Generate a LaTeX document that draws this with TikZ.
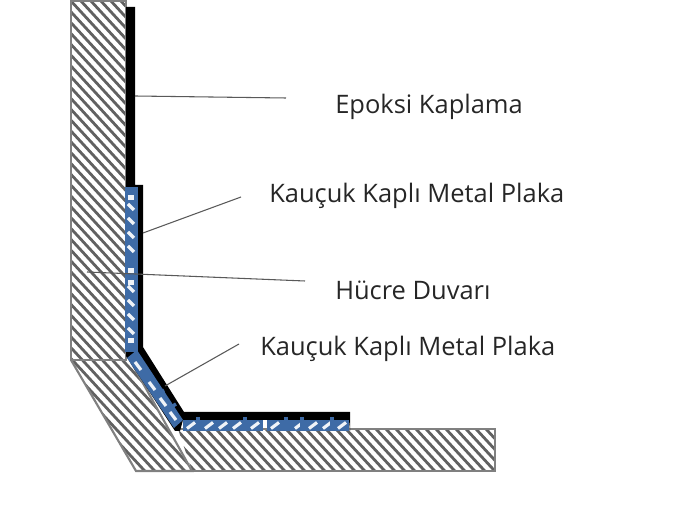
\documentclass[tikz,border=0pt]{standalone}
\usepackage{fontspec}
\setmainfont{Open Sans}
\tikzset{
  body/.style={draw=black!50,line width=1.6pt},
  hatch/.style={black!62,line width=2.1pt},
  plate/.style={fill=plateblue,draw=none},
  gap/.style={white!92!plateblue,line width=2.4pt},
  rib/.style={plateblue,line width=2.6pt},
  leader/.style={black!65,line width=0.8pt},
  label/.style={inner sep=0pt,anchor=west,font=\fontsize{19.1}{23}\selectfont,text=black!85}
}
\definecolor{plateblue}{RGB}{62,107,166}
\begin{document}
\begin{tikzpicture}[x=0.75pt,y=-0.75pt]
  \useasboundingbox (0,0) rectangle (694,527);

  % concrete
  \begin{scope}
    \clip (71,1) -- (126,1) -- (126,360) -- (71,360) -- cycle;
    \foreach \i in {-500,-490,...,400}
      \draw[hatch] (\i,0) -- ++(480,520);
  \end{scope}
  \begin{scope}
    \clip (71,360) -- (130,360) -- (192,471) -- (136,471) -- cycle;
    \foreach \i in {-500,-490,...,400}
      \draw[hatch] (\i,0) -- ++(480,520);
  \end{scope}
  \begin{scope}
    \clip (178,429) -- (495,429) -- (495,471) -- (192,471) -- cycle;
    \foreach \i in {-300,-290,...,500}
      \draw[hatch] (\i,0) -- ++(480,520);
  \end{scope}
  \draw[body] (71,1) -- (126,1) -- (126,360) -- (71,360) -- cycle;
  \draw[body] (71,360) -- (136,471) -- (192,471) -- (130,360);
  \draw[body] (178,429) -- (495,429) -- (495,471) -- (192,471);

  % coating
  \fill[black] (126,7) -- (135,7) -- (135,185) -- (143,185) -- (143,347)
    -- (184,412) -- (350,412) -- (350,431) -- (349,420) -- (183,420)
    -- (180,431) -- (175,431) -- (126,356) -- cycle;

  % plates
  \fill[plate] (125,187) rectangle (138,352);
  \foreach \y in {204,218,232,246,286,300,314,328}
    \draw[gap] (128,\y) -- (134,\y+6);
  \foreach \y in {195,268,280,338}
    \fill[white!92!plateblue] (128,\y) rectangle (134,\y+5);
  \foreach \y in {190,262,275,346}
    \draw[rib] (125,\y) -- (138,\y);

  \fill[plate] (127,358) -- (137,350) -- (183,420) -- (174,428) -- cycle;
  \foreach \a/\b in {135/362,149/382,160/398,170/412}
    \draw[gap] (\a,\b) -- ++(6,8);
  \foreach \a/\b in {143/377,156/395,168/409}
    \draw[rib] (\a,\b) -- ++(8,-5);

  \fill[plate] (183,420) rectangle (263,431);
  \fill[plate] (267,420) rectangle (349,431);
  \foreach \x in {187,205,219,233,251,271,295,309,323,338}
    \draw[gap] (\x,428.5) -- ++(8,-6);
  \foreach \x in {198,245,286,302,332}
    \draw[rib] (\x,417) -- (\x,431);

  % labels
  \node[label] (epoksi) at (335,107) {Epoksi Kaplama};
  \node[label] (plakaust) at (269,196) {Kauçuk Kaplı Metal Plaka};
  \node[label] (duvar) at (335,290) {Hücre Duvarı};
  \node[label] (plakaalt) at (260,349) {Kauçuk Kaplı Metal Plaka};

  \coordinate (e1) at (135,96);
  \coordinate (e2) at (286,98);
  \coordinate (p1) at (143,233);
  \coordinate (p2) at (241,197);
  \coordinate (d1) at (87,272);
  \coordinate (d2) at (305,281);
  \coordinate (a1) at (165,386);
  \coordinate (a2) at (239,344);
  \draw[leader] (e1) -- (e2) (p1) -- (p2) (d1) -- (d2) (a1) -- (a2);
\end{tikzpicture}
\end{document}
